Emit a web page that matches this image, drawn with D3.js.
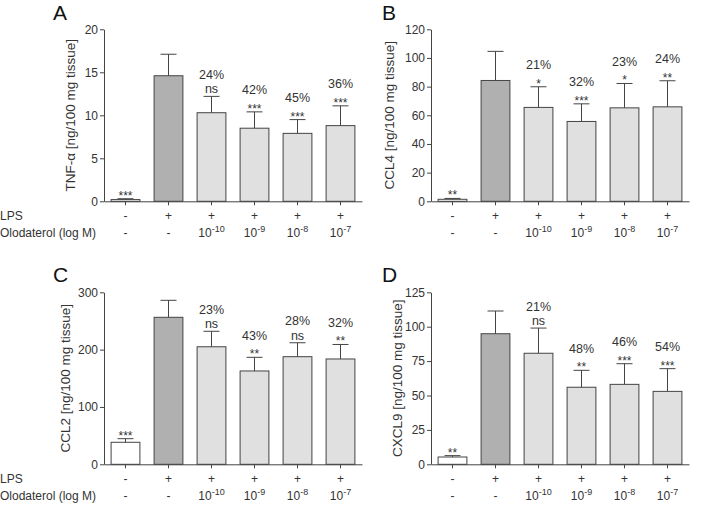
<!DOCTYPE html>
<html>
<head>
<meta charset="utf-8">
<script src="https://cdn.jsdelivr.net/npm/d3@7"></script>
<style>
  html, body { margin: 0; padding: 0; background: #fff; }
  svg { display: block; font-family: "Liberation Sans", Arial, sans-serif; }
</style>
</head>
<body>
<svg id="chart" width="709" height="505"></svg>
<script>
// ---- data ----
const groups = ["ctrl", "LPS", "O-10", "O-9", "O-8", "O-7"];
const lpsLabels = ["-", "+", "+", "+", "+", "+"];
const oloExponents = [null, null, -10, -9, -8, -7];

const tnfMean = [0.2, 14.6, 10.3, 8.5, 7.9, 8.8];
const tnfSem  = [0.1, 2.5, 1.9, 1.9, 1.6, 2.3];
const tnfSig  = ["***", "", "ns", "***", "***", "***"];
const tnfPct  = ["", "", "24%", "42%", "45%", "36%"];
const tnfTicks = [0, 5, 10, 15, 20];

const ccl4Mean = [1.4, 84.3, 65.5, 55.7, 65.2, 65.9];
const ccl4Sem  = [0.6, 20.3, 14.4, 12.3, 17.0, 18.2];
const ccl4Sig  = ["**", "", "*", "***", "*", "**"];
const ccl4Pct  = ["", "", "21%", "32%", "23%", "24%"];
const ccl4Ticks = [0, 20, 40, 60, 80, 100, 120];

const ccl2Mean = [38.4, 256.4, 205, 162.8, 187.7, 183.7];
const ccl2Sem  = [6.3, 29.6, 27, 23.8, 24.3, 25.3];
const ccl2Sig  = ["***", "", "ns", "**", "ns", "**"];
const ccl2Pct  = ["", "", "23%", "43%", "28%", "32%"];
const ccl2Ticks = [0, 100, 200, 300];

const cxcl9Mean = [5.3, 94.9, 80.7, 56, 58.1, 53];
const cxcl9Sem  = [1.0, 16.5, 18.3, 12.3, 15.0, 16.5];
const cxcl9Sig  = ["**", "", "ns", "**", "***", "***"];
const cxcl9Pct  = ["", "", "21%", "48%", "46%", "54%"];
const cxcl9Ticks = [0, 25, 50, 75, 100, 125];

const fills = ["#ffffff", "#b0b0b0", "#e0e0e0", "#e0e0e0", "#e0e0e0", "#e0e0e0"];

const svg = d3.select("#chart");
const ink = "#333";
const lineCol = "#444";

function panel(opts) {
  const {letter, x0, x1, yTop, yBot, maxV, ticks, mean, sem, sig, pct, ylabel, ylabelX, rowLabels} = opts;
  const g = svg.append("g");
  const x = d3.scaleBand().domain(groups).range([x0, x1]).paddingInner(0.33).paddingOuter(0.165);
  const y = d3.scaleLinear().domain([0, maxV]).range([yBot, yTop]);

  // bars
  g.selectAll("rect.bar").data(groups).enter().append("rect")
    .attr("x", d => x(d))
    .attr("width", x.bandwidth())
    .attr("y", (d, i) => y(mean[i]))
    .attr("height", (d, i) => yBot - y(mean[i]))
    .attr("fill", (d, i) => fills[i])
    .attr("stroke", lineCol).attr("stroke-width", 1);

  // error bars (upper only)
  const capW = 16;
  groups.forEach((d, i) => {
    const cx = x(d) + x.bandwidth() / 2;
    const top = y(mean[i] + sem[i]);
    g.append("line").attr("x1", cx).attr("x2", cx).attr("y1", y(mean[i])).attr("y2", top)
      .attr("stroke", lineCol).attr("stroke-width", 1);
    g.append("line").attr("x1", cx - capW / 2).attr("x2", cx + capW / 2).attr("y1", top).attr("y2", top)
      .attr("stroke", lineCol).attr("stroke-width", 1);
    if (sig[i]) {
      const isStar = sig[i].indexOf("*") >= 0;
      g.append("text").attr("x", cx).attr("y", top - (isStar ? -1 : 3))
        .attr("text-anchor", "middle").attr("font-size", isStar ? 12 : 12.5).attr("fill", ink).text(sig[i]);
    }
    if (pct[i]) {
      g.append("text").attr("x", cx).attr("y", top - 17.5)
        .attr("text-anchor", "middle").attr("font-size", 12.5).attr("fill", ink).text(pct[i]);
    }
  });

  // y axis
  const ya = g.append("g").attr("transform", `translate(${x0},0)`)
    .call(d3.axisLeft(y).tickValues(ticks).tickSize(4).tickSizeOuter(0).tickPadding(2));
  ya.select(".domain").attr("stroke", lineCol);
  ya.selectAll(".tick line").attr("stroke", lineCol);
  ya.selectAll(".tick text").attr("font-size", 12).attr("fill", ink).attr("font-family", "Liberation Sans, Arial, sans-serif");

  // x axis
  const xa = g.append("g").attr("transform", `translate(0,${yBot})`)
    .call(d3.axisBottom(x).tickSize(4).tickSizeOuter(0).tickFormat(""));
  xa.select(".domain").attr("stroke", lineCol);
  xa.selectAll(".tick line").attr("stroke", lineCol);

  // row labels under bars
  groups.forEach((d, i) => {
    const cx = x(d) + x.bandwidth() / 2;
    g.append("text").attr("x", cx).attr("y", yBot + 19).attr("text-anchor", "middle")
      .attr("font-size", 12).attr("fill", ink).text(lpsLabels[i]);
    const t = g.append("text").attr("x", cx).attr("y", yBot + 36).attr("text-anchor", "middle")
      .attr("font-size", 12).attr("fill", ink);
    if (oloExponents[i] === null) {
      t.text("-");
    } else {
      t.append("tspan").text("10");
      t.append("tspan").attr("font-size", 9).attr("dy", -5).text(oloExponents[i]);
    }
  });
  if (rowLabels) {
    g.append("text").attr("x", 0).attr("y", yBot + 19).attr("font-size", 12).attr("fill", ink).text("LPS");
    g.append("text").attr("x", 0).attr("y", yBot + 36).attr("font-size", 12).attr("fill", ink).text("Olodaterol (log M)");
  }

  // y label
  g.append("text")
    .attr("transform", `translate(${ylabelX},${(yTop + yBot) / 2}) rotate(-90)`)
    .attr("text-anchor", "middle").attr("dominant-baseline", "central")
    .attr("font-size", 13.5).attr("fill", ink).text(ylabel);

  // panel letter
  g.append("text").attr("x", opts.letterX).attr("y", opts.letterY)
    .attr("font-size", 21).attr("fill", "#111").text(letter);
}

panel({letter: "A", letterX: 53, letterY: 20, x0: 104, x1: 362, yTop: 29.3, yBot: 201.3, maxV: 20,
  ticks: tnfTicks, mean: tnfMean, sem: tnfSem, sig: tnfSig, pct: tnfPct,
  ylabel: "TNF-α [ng/100 mg tissue]", ylabelX: 70, rowLabels: true});
panel({letter: "B", letterX: 382, letterY: 20, x0: 431, x1: 689, yTop: 29.3, yBot: 201.3, maxV: 120,
  ticks: ccl4Ticks, mean: ccl4Mean, sem: ccl4Sem, sig: ccl4Sig, pct: ccl4Pct,
  ylabel: "CCL4 [ng/100 mg tissue]", ylabelX: 389, rowLabels: false});
panel({letter: "C", letterX: 53, letterY: 282, x0: 104, x1: 362, yTop: 292.3, yBot: 464.3, maxV: 300,
  ticks: ccl2Ticks, mean: ccl2Mean, sem: ccl2Sem, sig: ccl2Sig, pct: ccl2Pct,
  ylabel: "CCL2 [ng/100 mg tissue]", ylabelX: 65, rowLabels: true});
panel({letter: "D", letterX: 382, letterY: 282, x0: 431, x1: 689, yTop: 292.3, yBot: 464.3, maxV: 125,
  ticks: cxcl9Ticks, mean: cxcl9Mean, sem: cxcl9Sem, sig: cxcl9Sig, pct: cxcl9Pct,
  ylabel: "CXCL9 [ng/100 mg tissue]", ylabelX: 397, rowLabels: false});
</script>
</body>
</html>
